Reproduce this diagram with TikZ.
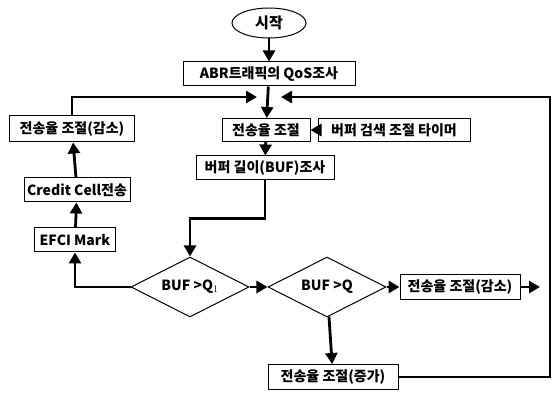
\documentclass[tikz,border=0pt]{standalone}
\usepackage{fontspec}
\setmainfont{Noto Sans CJK KR}
\usepackage{tikz}
\usetikzlibrary{arrows,arrows.meta,shapes.geometric}
\usetikzlibrary{calc}
\usetikzlibrary{positioning}

\tikzset{
  box/.style={draw,line width=1pt,rectangle,inner sep=1pt,minimum height=24pt,font=\bfseries\fontsize{14}{14}\selectfont},
  test/.style={draw,line width=1pt,diamond,aspect=2,inner sep=0pt,minimum width=118pt,minimum height=60pt,font=\bfseries\fontsize{14}{14}\selectfont},
  flow/.style={line width=2.8pt,-{Triangle[length=11pt,width=12pt]}},
  flowline/.style={line width=2.8pt}
}

\begin{document}
\begin{tikzpicture}[x=1pt,y=-1pt]
\useasboundingbox (0,0) rectangle (558,393);
\node [draw,line width=1pt,ellipse,minimum width=74pt,minimum height=30pt,font=\bfseries\fontsize{15}{15}\selectfont] (start) at (269,23) {시작};
\node [box,minimum width=172pt] (qos) at (269,74) {ABR트래픽의 QoS조사};
\node [box,minimum width=88pt,minimum height=23pt] (rate) at (266,130) {전송율 조절};
\node [box,minimum width=152pt,minimum height=23pt] (timer) at (394,130) {버퍼 검색 조절 타이머};
\node [box,minimum width=138pt] (buf) at (265,168) {버퍼 길이(BUF)조사};
\node [box,minimum width=125pt,minimum height=26pt] (down1) at (72,129) {전송율 조절(감소)};
\node [box,minimum width=106pt] (credit) at (77,190) {Credit Cell전송};
\node [box,minimum width=81pt] (efci) at (75,240) {EFCI Mark};
\node [test] (q1) at (190,287) {BUF >Q$_1$};
\node [test] (q2) at (327,287) {BUF >Q};
\node [box,minimum width=120pt,minimum height=25pt] (down2) at (460,287) {전송율 조절(감소)};
\node [box,minimum width=130pt,minimum height=25pt] (up) at (333,377) {전송율 조절(증가)};

\coordinate (inL) at (257,97);
\coordinate (inR) at (281,97);
\coordinate (outR) at (540,287);
\coordinate (edge) at (550,97);

\draw [flow] (start) -- (qos);
\draw [flow] (qos) -- (rate);
\draw [flow] (timer) -- (rate);
\draw [flow] (rate) -- (buf);
\draw [flow] (buf.south) |- ($(buf.south)!.5!(q1.north)$) -| (q1.north);
\draw [flow] (down1.north) |- (inL);
\foreach \a/\b in {credit/down1, efci/credit}
  \draw [flow] (\a) -- (\b);
\draw [flow] (q1.west) -| (efci.south);
\draw [flow] (q1) -- (q2);
\draw [flow] (q2) -- (down2);
\draw [flow] (q2) -- (up);
\draw [flow] (down2) -- (outR);
\draw [flow] (up.east) -| (edge) -- (inR);
\end{tikzpicture}
\end{document}
